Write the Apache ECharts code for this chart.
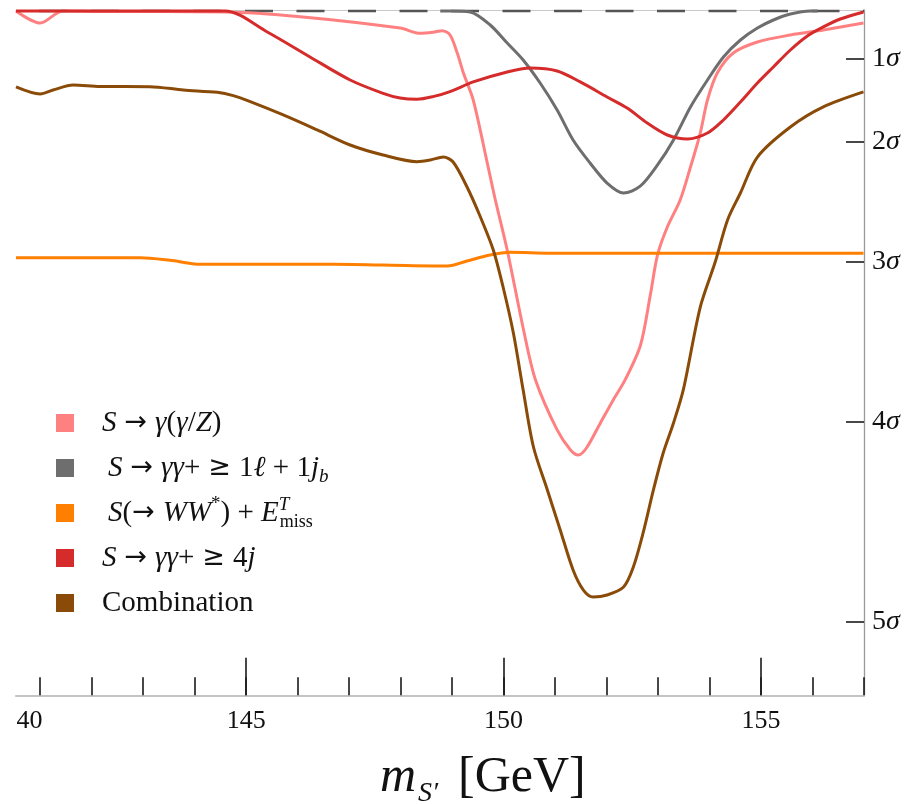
<!DOCTYPE html>
<html><head><meta charset="utf-8">
<script src="https://cdn.jsdelivr.net/npm/echarts@6/dist/echarts.min.js"></script>
<style>html,body{margin:0;padding:0;background:#fff}#c{width:905px;height:804px}</style>
</head><body><div id="c"></div>
<script>
// x: m_S' [GeV]; y: local significance expressed as -log10(p)
const seriesNames = ['S→γ(γ/Z)', 'S→γγ+≥1ℓ+1jb', 'S(→WW*)+Emiss', 'S→γγ+≥4j', 'Combination'];
const seriesColors = ['#ff8080', '#6e6e6e', '#ff8000', '#d62b2b', '#8a4b08'];

const gammaZData = [
  [140.53,0.311],[141.00,0.434],[141.44,0.311],[142.16,0.316],[144.59,0.321],[146.05,0.369],
  [147.99,0.485],[148.38,0.539],[148.63,0.528],[148.81,0.512],[148.96,0.556],[149.10,0.740],
  [149.22,0.944],[149.41,1.219],[149.70,1.903],[149.84,2.239],[150.07,2.749],[150.40,3.596],
  [150.62,4.075],[151.04,4.585],[151.30,4.789],[151.45,4.840],[151.61,4.769],[151.88,4.514],
  [152.13,4.279],[152.36,4.075],[152.66,3.718],[152.85,3.208],[152.99,2.800],[153.18,2.515],
  [153.43,2.239],[153.63,1.903],[153.82,1.556],[153.96,1.219],[154.15,0.944],[154.46,0.740],
  [154.93,0.627],[155.57,0.556],[156.21,0.505],[156.99,0.434]
];
const leptonData = [
  [148.77,0.311],[148.96,0.311],[149.35,0.321],[149.74,0.454],[150.07,0.638],[150.38,0.811],
  [150.71,1.046],[151.04,1.321],[151.35,1.627],[151.68,1.862],[152.01,2.066],[152.33,2.168],
  [152.66,2.096],[152.99,1.882],[153.30,1.627],[153.63,1.290],[153.96,1.015],[154.27,0.780],
  [154.60,0.607],[154.93,0.485],[155.24,0.403],[155.57,0.342],[155.96,0.311],[156.10,0.311]
];
const wwData = [
  [140.53,2.828],[142.94,2.828],[143.52,2.854],[144.11,2.895],[146.69,2.895],[148.63,2.912],
  [148.91,2.912],[149.29,2.861],[149.74,2.800],[150.13,2.773],[150.91,2.783],[156.99,2.783]
];
const jetsData = [
  [140.53,0.311],[144.59,0.311],[145.41,0.525],[146.24,0.780],[147.02,1.015],[147.66,1.151],
  [147.99,1.199],[148.32,1.212],[148.63,1.185],[148.96,1.134],[149.41,1.035],[150.07,0.933],
  [150.52,0.893],[151.04,0.923],[151.49,1.035],[152.01,1.188],[152.40,1.301],[152.79,1.454],
  [153.18,1.576],[153.57,1.617],[153.96,1.556],[154.27,1.423],[154.60,1.240],[154.93,1.046],
  [155.24,0.882],[155.57,0.709],[155.90,0.566],[156.21,0.474],[156.54,0.393],[156.99,0.321]
];
const combData = [
  [140.53,1.086],[141.00,1.158],[141.25,1.117],[141.64,1.066],[142.16,1.081],[143.13,1.083],
  [143.78,1.117],[144.44,1.141],[144.75,1.175],[145.08,1.236],[145.72,1.372],[146.38,1.525],
  [147.02,1.678],[147.66,1.780],[148.32,1.848],[148.58,1.831],[148.83,1.801],[149.02,1.852],
  [149.29,2.107],[149.55,2.413],[149.80,2.749],[149.99,3.127],[150.19,3.596],[150.38,4.177],
  [150.58,4.759],[150.85,5.197],[151.10,5.605],[151.35,6.013],[151.55,6.218],[151.74,6.289],
  [152.01,6.269],[152.33,6.187],[152.52,5.983],[152.71,5.636],[152.91,5.197],[153.10,4.820],
  [153.30,4.514],[153.49,4.177],[153.82,3.331],[154.11,2.872],[154.35,2.443],[154.60,2.168],
  [154.93,1.801],[155.57,1.495],[156.21,1.290],[156.99,1.137]
];
const zeroSigmaLine = [[140.53,0.311],[157,0.311]];

const sigmaLevels = [0.7995, 1.6430, 2.8697, 4.4995, 6.5426];
const sigmaLabels = ['1', '2', '3', '4', '5'];
const xMinorTicks = [141,142,143,144,145,146,147,148,149,150,151,152,153,154,155,156,157];
const xMajorTicks = [145,150,155];
const xLabelValues = [140.79,145,150,155];
const xLabelTexts = ['40','145','150','155'];

const FONT = "'Liberation Serif','DejaVu Serif',serif";
const legendRich = {
  '0': '{g|}{it|S}{op|→}{it|γ}({it|γ}/{it|Z})',
  '1': '{g2|}{it|S}{op|→}{it|γγ}+{op|≥}1{it|ℓ} + 1{it|j}{subI|b}',
  '2': '{g2|}{it|S}({opl|→}{it|WW}{sup|*}) + {it|E}{supI|T}{sub|miss}',
  '3': '{g|}{it|S}{op|→}{it|γγ}+{op|≥}4{it|j}',
  '4': '{g|}Combination'
};

const chart = echarts.init(document.getElementById('c'), null, {renderer: 'canvas'});
const dataSets = [gammaZData, leptonData, wwData, jetsData, combData];

const series = [{
  type: 'line', name: 'zero', data: zeroSigmaLine, showSymbol: false, silent: true,
  xAxisIndex: 0, yAxisIndex: 0, z: 1,
  lineStyle: {color: '#555', width: 2.5, type: [28, 23.5], dashOffset: 28.5}
}];
dataSets.forEach((d, i) => {
  series.push({
    type: 'line', name: seriesNames[i], data: d, showSymbol: false, smooth: 0.3,
    xAxisIndex: 0, yAxisIndex: 0, z: 2 + i,
    color: seriesColors[i], lineStyle: {color: seriesColors[i], width: 3}
  });
});

chart.setOption({
  animation: false,
  backgroundColor: '#fff',
  grid: {left: 16, right: 41, top: 10, bottom: 108.7, containLabel: false, outerBoundsMode: 'none'},
  xAxis: [{
    type: 'value', min: 140.53, max: 157, position: 'bottom',
    axisLine: {show: true, lineStyle: {color: '#c4c4c4', width: 2}},
    axisTick: {show: true, inside: true, length: 18, customValues: xMinorTicks, lineStyle: {color: '#1a1a1a', width: 1.6}},
    axisLabel: {show: true, customValues: xLabelValues, margin: 13, fontFamily: FONT, fontSize: 26, color: '#111',
      formatter: v => { const k = xLabelValues.findIndex(t => Math.abs(t - v) < 1e-6); return k >= 0 ? xLabelTexts[k] : ''; }},
    splitLine: {show: false}
  }, {
    type: 'value', min: 140.53, max: 157, position: 'bottom', gridIndex: 0,
    axisLine: {show: false},
    axisTick: {show: true, inside: true, length: 37.5, customValues: xMajorTicks, lineStyle: {color: '#1a1a1a', width: 1.6}},
    axisLabel: {show: false}, splitLine: {show: false}
  }, {
    type: 'value', min: 140.53, max: 157, position: 'top', gridIndex: 0,
    axisLine: {show: true, lineStyle: {color: '#c8c8c8', width: 1}},
    axisTick: {show: false}, axisLabel: {show: false}, splitLine: {show: false}
  }],
  yAxis: [{
    type: 'value', inverse: true, min: 0.301, max: 7.292, position: 'right',
    axisLine: {show: true, lineStyle: {color: '#999', width: 1.3}},
    axisTick: {show: true, inside: true, length: 18, customValues: sigmaLevels, lineStyle: {color: '#1a1a1a', width: 1.6}},
    axisLabel: {show: true, customValues: sigmaLevels, margin: 8, color: '#111',
      formatter: v => { const k = sigmaLevels.findIndex(t => Math.abs(t - v) < 1e-6); return k >= 0 ? '{n|' + sigmaLabels[k] + '}{s|σ}' : ''; },
      rich: {n: {fontFamily: FONT, fontSize: 28, color: '#111'}, s: {fontFamily: FONT, fontSize: 28, fontStyle: 'italic', color: '#111'}}},
    splitLine: {show: false}
  }],
  legend: {
    data: seriesNames, orient: 'vertical', left: 56, top: 405, itemGap: 9, padding: 0,
    icon: 'rect', itemWidth: 18, itemHeight: 18, selectedMode: false,
    formatter: name => legendRich[String(seriesNames.indexOf(name))],
    textStyle: {fontFamily: FONT, fontSize: 29, color: '#111', lineHeight: 36,
      rich: {
        g: {width: 23}, g2: {width: 29},
        it: {fontFamily: FONT, fontSize: 29, fontStyle: 'italic', color: '#111', lineHeight: 36},
        op: {fontFamily: "'DejaVu Sans',sans-serif", fontSize: 27, color: '#111', lineHeight: 36, padding: [0, 8, 0, 8]},
        opl: {fontFamily: "'DejaVu Sans',sans-serif", fontSize: 27, color: '#111', lineHeight: 36, padding: [0, 8, 0, 0]},
        subI: {fontFamily: FONT, fontSize: 19, fontStyle: 'italic', color: '#111', lineHeight: 19, verticalAlign: 'bottom'},
        sub: {fontFamily: FONT, fontSize: 18, color: '#111', lineHeight: 19, verticalAlign: 'bottom'},
        supI: {fontFamily: FONT, fontSize: 19, fontStyle: 'italic', color: '#111', lineHeight: 19, verticalAlign: 'top', width: 1},
        sup: {fontFamily: FONT, fontSize: 19, color: '#111', lineHeight: 19, verticalAlign: 'top'}
      }}
  },
  graphic: [
    {type: 'text', x: 380, y: 778, silent: true, style: {text: 'm', font: 'italic 50px ' + FONT, fill: '#111', verticalAlign: 'middle'}},
    {type: 'text', x: 418, y: 794, silent: true, style: {text: 'S′', font: 'italic 28px ' + FONT, fill: '#111', verticalAlign: 'middle'}},
    {type: 'text', x: 458, y: 778, silent: true, style: {text: '[GeV]', font: '50px ' + FONT, fill: '#111', verticalAlign: 'middle'}}
  ],
  series: series
});
</script>
</body></html>
